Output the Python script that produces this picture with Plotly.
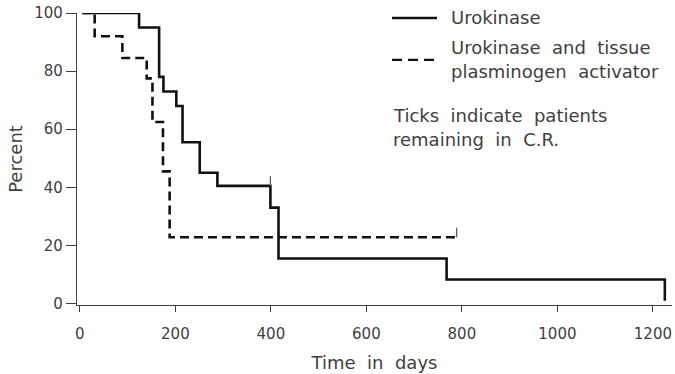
import plotly.graph_objects as go

# Kaplan-Meier estimates: event times (days) and survival (%) after each step
uro_times = [5, 124, 166, 175, 202, 215, 251, 288, 399, 416, 768, 1225]
uro_surv = [100, 95, 78, 73, 68, 55.5, 45, 40.5, 33, 15.5, 8.3, 1]
uro_censor = [399]

tpa_times = [5, 31, 89, 140, 152, 174, 188]
tpa_surv = [100, 92, 84.5, 77.5, 62.5, 45.5, 22.8]
tpa_end = 789
tpa_censor = [789]

x_ticks = [0, 200, 400, 600, 800, 1000, 1200]
y_ticks = [0, 20, 40, 60, 80, 100]

INK = "#111111"
GREY = "#404040"
FONT = "DejaVu Sans"
TICK_H = 3.3  # height of censoring tick marks, in percent


def step_xy(times, surv, end=None):
    xs, ys = [times[0]], [surv[0]]
    for t, s in zip(times[1:], surv[1:]):
        xs += [t, t]
        ys += [ys[-1], s]
    if end is not None:
        xs.append(end)
        ys.append(ys[-1])
    return xs, ys


def level_before(times, surv, t):
    val = surv[0]
    for tt, s in zip(times, surv):
        if tt < t:
            val = s
    return val


fig = go.Figure()

ux, uy = step_xy(uro_times, uro_surv)
tx, ty = step_xy(tpa_times, tpa_surv, tpa_end)

fig.add_trace(go.Scatter(x=ux, y=uy, mode="lines",
                         line=dict(color=INK, width=2.6),
                         hoverinfo="skip", showlegend=False))
fig.add_trace(go.Scatter(x=tx, y=ty, mode="lines",
                         line=dict(color=INK, width=2.6, dash="9px,5px"),
                         hoverinfo="skip", showlegend=False))

# censoring ticks
for times, surv, cens in ((uro_times, uro_surv, uro_censor),
                          (tpa_times, tpa_surv, tpa_censor)):
    for c in cens:
        lv = level_before(times, surv, c)
        fig.add_trace(go.Scatter(x=[c, c], y=[lv, lv + TICK_H], mode="lines",
                                 line=dict(color="#555555", width=1.2),
                                 hoverinfo="skip", showlegend=False))

# hand-drawn key, placed in pixel terms relative to the plot area
L = 77
W = 595
T = 13
H = 292.5


def px(x):
    return (x - L) / W


def py(y):
    return (T + H - y) / H


fig.add_shape(type="line", xref="paper", yref="paper",
              x0=px(392), x1=px(437), y0=py(18), y1=py(18),
              line=dict(color=INK, width=2.4))
fig.add_shape(type="line", xref="paper", yref="paper",
              x0=px(392), x1=px(437), y0=py(60), y1=py(60),
              line=dict(color=INK, width=2.4, dash="10px,6px"))

notes = [
    (449, 18, "Urokinase"),
    (449, 48, "Urokinase&nbsp; and&nbsp; tissue"),
    (449, 72, "plasminogen&nbsp; activator"),
    (391, 116, "Ticks&nbsp; indicate&nbsp; patients"),
    (391, 140, "remaining&nbsp; in&nbsp; C.R."),
]
for x, y, txt in notes:
    fig.add_annotation(xref="paper", yref="paper", x=px(x), y=py(y),
                       text=txt, showarrow=False, xanchor="left",
                       yanchor="middle", font=dict(family=FONT, size=18, color=GREY))

fig.update_layout(
    width=675, height=374,
    margin=dict(l=L, r=675 - L - W, t=T, b=374 - T - H),
    paper_bgcolor="white", plot_bgcolor="white",
    font=dict(family=FONT, color=GREY),
    xaxis=dict(range=[-6, 1240], tickvals=x_ticks, ticks="outside", ticklen=6,
               tickcolor=GREY, showline=True, linecolor=GREY, linewidth=1.2,
               showgrid=False, zeroline=False, tickfont=dict(size=15, color=GREY),
               ticklabelstandoff=9,
               title=dict(text="Time&nbsp; in&nbsp; days",
                          font=dict(size=18, color=GREY), standoff=14)),
    yaxis=dict(range=[-0.5, 100], tickvals=y_ticks, ticks="outside", ticklen=10,
               tickcolor=GREY, showline=True, linecolor=GREY, linewidth=1.2,
               showgrid=False, zeroline=False, tickfont=dict(size=15, color=GREY),
               title=dict(text="Percent", font=dict(size=18, color=GREY), standoff=6)),
)

fig.write_html("out.html")
